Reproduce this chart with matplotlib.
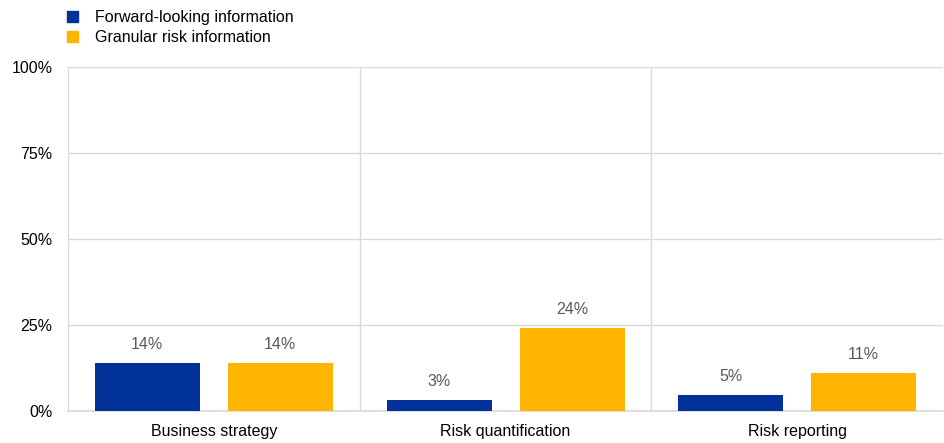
import numpy as np
import matplotlib
matplotlib.use("Agg")
import matplotlib.pyplot as plt
from matplotlib.patches import Patch

plt.rcParams["font.family"] = ["Liberation Sans", "DejaVu Sans"]

categories = ["Business strategy", "Risk quantification", "Risk reporting"]
forward_looking = [14, 3.2, 4.6]
granular_risk = [14, 24.1, 11]
forward_labels = ["14%", "3%", "5%"]
granular_labels = ["14%", "24%", "11%"]
series_names = ["Forward-looking information", "Granular risk information"]

BLUE = "#003299"
YELLOW = "#FFB400"
GRID = "#d9d9d9"
LABEL = "#595959"
FS = 11.5

fig = plt.figure(figsize=(9.44, 4.43), dpi=100)
ax = fig.add_axes([0.072, 0.0722, 0.927, 0.7766])

x = np.arange(len(categories))
width = 0.36
offset = 0.228
ax.bar(x - offset, forward_looking, width, color=BLUE, zorder=3)
ax.bar(x + offset, granular_risk, width, color=YELLOW, zorder=3)

for xi, v, lab in zip(x - offset, forward_looking, forward_labels):
    ax.annotate(lab, (xi, v), xytext=(0, 8), textcoords="offset points",
                ha="center", va="bottom", fontsize=FS, color=LABEL)
for xi, v, lab in zip(x + offset, granular_risk, granular_labels):
    ax.annotate(lab, (xi, v), xytext=(0, 8), textcoords="offset points",
                ha="center", va="bottom", fontsize=FS, color=LABEL)

ax.set_xlim(-0.5, len(categories) - 0.5)
ax.set_ylim(0, 100)
ax.set_yticks([0, 25, 50, 75, 100])
ax.set_yticklabels(["0%", "25%", "50%", "75%", "100%"])
ax.set_xticks(x)
ax.set_xticklabels(categories)
ax.tick_params(axis="both", length=0, labelsize=FS, colors="black")
ax.tick_params(axis="y", pad=11)
ax.tick_params(axis="x", pad=9)

# horizontal grid + vertical category separators
ax.yaxis.grid(True, color=GRID, linewidth=1, zorder=0)
for b in np.arange(0.5, len(categories) - 0.5, 1.0):
    ax.axvline(b, color=GRID, linewidth=1, zorder=0)

for side in ["top", "right"]:
    ax.spines[side].set_visible(False)
ax.spines["left"].set_color(GRID)
ax.spines["bottom"].set_color(GRID)
ax.spines["bottom"].set_linewidth(1.2)

handles = [Patch(color=BLUE), Patch(color=YELLOW)]
fig.legend(handles, series_names, loc="upper left",
           bbox_to_anchor=(67 / 944, 1 - 10 / 443),
           frameon=False, fontsize=FS, handlelength=0.7, handleheight=0.7,
           handletextpad=1.05, labelspacing=0.3, borderpad=0, borderaxespad=0)

fig.savefig("out.png", dpi=100)
